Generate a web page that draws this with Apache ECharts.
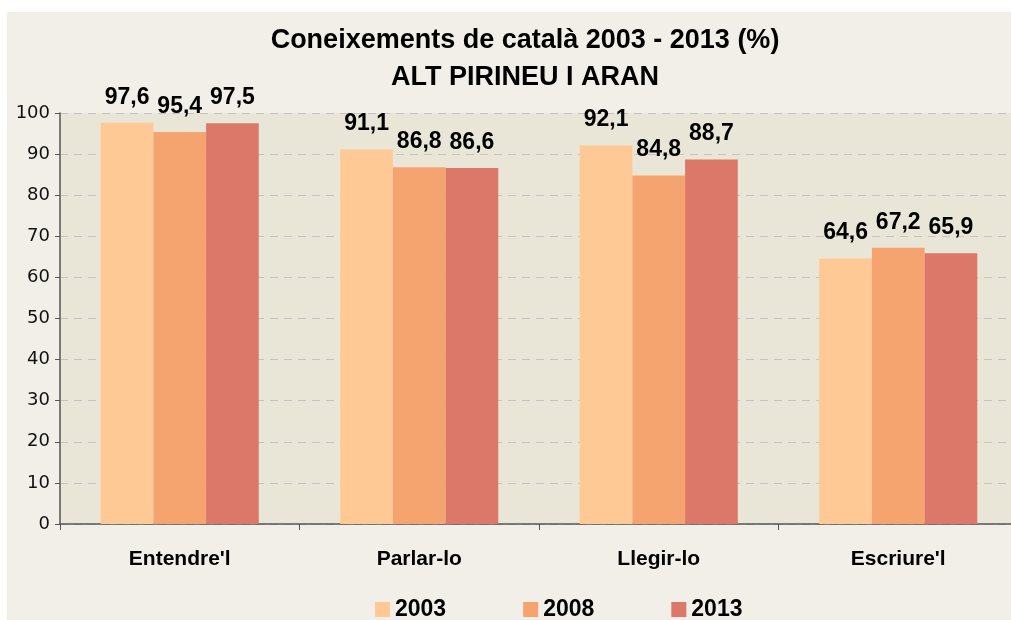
<!DOCTYPE html>
<html>
<head>
<meta charset="utf-8">
<script src="https://cdn.jsdelivr.net/npm/echarts@6/dist/echarts.min.js"></script>
<style>
  html, body { margin: 0; padding: 0; background: #fff; overflow: hidden; }
  #chart { width: 1022px; height: 620px; }
</style>
</head>
<body>
<div id="chart"></div>
<script>
const categories = ["Entendre'l", 'Parlar-lo', 'Llegir-lo', "Escriure'l"];
const years = ['2003', '2008', '2013'];
const values2003 = [97.6, 91.1, 92.1, 64.6];
const values2008 = [95.4, 86.8, 84.8, 67.2];
const values2013 = [97.5, 86.6, 88.7, 65.9];
const colors = ['#fec995', '#f5a46f', '#dc7869'];

const chart = echarts.init(document.getElementById('chart'));

const sans = 'Liberation Sans, Arial, sans-serif';
const wide = 'DejaVu Sans, Verdana, sans-serif';

function barSeries(name, data, color) {
  return {
    name: name,
    type: 'bar',
    data: data,
    barGap: '0%',
    barCategoryGap: '34%',
    itemStyle: {color: color},
    label: {
      show: true,
      position: 'top',
      distance: 14,
      formatter: (p) => String(p.value).replace('.', ','),
      fontFamily: sans,
      fontWeight: 'bold',
      fontSize: 23,
      color: '#000'
    }
  };
}

chart.setOption({
  backgroundColor: '#fff',
  animation: false,
  graphic: [{
    type: 'rect',
    left: 7, top: 12,
    shape: {width: 1015, height: 608},
    style: {fill: '#f1efe7'},
    z: -10
  }],
  title: {
    text: 'Coneixements de català 2003 - 2013 (%)\nALT PIRINEU I ARAN',
    left: 520,
    textAlign: 'center',
    top: 17,
    textStyle: {
      fontFamily: sans,
      fontWeight: 'bold',
      fontSize: 27,
      lineHeight: 37,
      color: '#000'
    }
  },
  legend: {
    data: years,
    top: 598,
    left: 375,
    padding: 0,
    itemWidth: 15,
    itemHeight: 15,
    itemGap: 77,
    icon: 'rect',
    textStyle: {fontFamily: sans, fontWeight: 'bold', fontSize: 23, color: '#000'}
  },
  grid: {
    left: 60,
    top: 113,
    width: 958,
    bottom: 96,
    show: true,
    backgroundColor: '#e9e6d7',
    borderWidth: 0
  },
  xAxis: {
    type: 'category',
    data: categories,
    axisLine: {lineStyle: {color: '#555', width: 1.5}},
    axisTick: {show: true, length: 6, lineStyle: {color: '#555'}},
    axisLabel: {fontFamily: sans, fontWeight: 'bold', fontSize: 21, color: '#000', margin: 25}
  },
  yAxis: {
    type: 'value',
    min: 0,
    max: 100,
    interval: 10,
    axisLine: {show: true, lineStyle: {color: '#555', width: 1.5}},
    axisTick: {show: true, length: 5, lineStyle: {color: '#555'}},
    axisLabel: {fontFamily: wide, fontSize: 18, color: '#111', margin: 10},
    splitLine: {lineStyle: {color: '#c4c4c4', type: [8, 6]}}
  },
  series: [
    barSeries('2003', values2003, colors[0]),
    barSeries('2008', values2008, colors[1]),
    barSeries('2013', values2013, colors[2])
  ]
});
</script>
</body>
</html>
